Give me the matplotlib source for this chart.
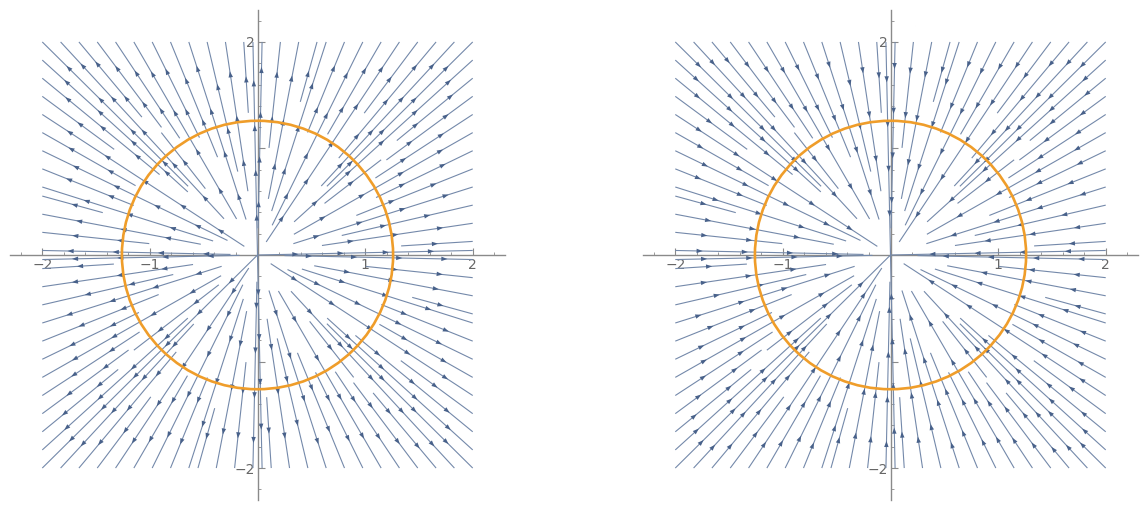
import numpy as np
import matplotlib.pyplot as plt
from matplotlib.patches import Circle, FancyArrowPatch
from matplotlib.ticker import MultipleLocator, FixedLocator

# Field directions: +1 -> outward source, -1 -> inward sink
directions = [1, -1]
circle_radius = 1.26
major_ticks = [-2, -1, 1, 2]
x_tick_labels = ["\u22122", "\u22121", "1", "2"]
y_tick_labels = ["\u22122", "", "", "2"]

STREAM = "#7489aa"
HEAD = "#48618a"
ORANGE = "#ef9d2a"
AXIS = "#8a8a8a"
ARROW_GAP = 0.42

fig = plt.figure(figsize=(11.43, 5.07), dpi=100)
boxes = [[10 / 1143, 7 / 507, 495 / 1143, 490 / 507],
         [643 / 1143, 7 / 507, 495 / 1143, 490 / 507]]

grid = np.linspace(-2, 2, 101)
X, Y = np.meshgrid(grid, grid)


def streamlines_from(segments):
    """Return whole streamlines, joining two-point pieces when needed."""
    segs = [np.asarray(s) for s in segments]
    if segs and max(len(s) for s in segs) > 2:
        return segs
    lines, current = [], None
    for seg in segs:
        if current is not None and np.allclose(current[-1], seg[0]):
            current.append(seg[1])
        else:
            if current is not None:
                lines.append(np.array(current))
            current = [seg[0], seg[1]]
    if current is not None:
        lines.append(np.array(current))
    return lines


for box, sgn in zip(boxes, directions):
    ax = fig.add_axes(box)
    U = sgn * X
    V = sgn * Y
    sp = ax.streamplot(X, Y, U, V, density=1.6, color=STREAM, linewidth=0.8,
                       arrowsize=0, minlength=0.14, zorder=3)

    # arrowheads spaced evenly along each streamline
    for line in streamlines_from(sp.lines.get_segments()):
        d = np.hypot(np.diff(line[:, 0]), np.diff(line[:, 1]))
        s = np.concatenate([[0], np.cumsum(d)])
        total = s[-1]
        if total < 0.15:
            continue
        n = max(1, int(total / ARROW_GAP))
        offset = (total - (n - 1) * ARROW_GAP) / 2
        for k in range(n):
            sk = offset + k * ARROW_GAP
            px = np.interp(sk, s, line[:, 0])
            py = np.interp(sk, s, line[:, 1])
            r = np.hypot(px, py)
            if r < 1e-3:
                continue
            ux, uy = sgn * px / r, sgn * py / r
            arr = FancyArrowPatch((px - ux * 0.01, py - uy * 0.01),
                                  (px + ux * 0.01, py + uy * 0.01),
                                  arrowstyle="-|>,head_length=0.55,head_width=0.2",
                                  mutation_scale=8,
                                  color=HEAD, lw=0, zorder=3.5)
            ax.add_patch(arr)

    ax.add_patch(Circle((0, 0), circle_radius, fill=False, color=ORANGE,
                        lw=1.9, zorder=4))
    ax.set_xlim(-2.3, 2.3)
    ax.set_ylim(-2.3, 2.3)
    for s in ("top", "right"):
        ax.spines[s].set_visible(False)
    for s in ("left", "bottom"):
        ax.spines[s].set_position("zero")
        ax.spines[s].set_color(AXIS)
        ax.spines[s].set_linewidth(1.0)
        ax.spines[s].set_zorder(1)
    ax.xaxis.set_major_locator(FixedLocator(major_ticks))
    ax.yaxis.set_major_locator(FixedLocator(major_ticks))
    ax.xaxis.set_minor_locator(MultipleLocator(0.2))
    ax.yaxis.set_minor_locator(MultipleLocator(0.2))
    ax.set_xticklabels(x_tick_labels)
    ax.set_yticklabels(y_tick_labels)
    ax.tick_params(axis="both", which="both", direction="in", colors=AXIS,
                   labelcolor="#666666", labelsize=10, pad=2)
    ax.tick_params(which="major", length=5, width=0.8)
    ax.tick_params(which="minor", length=2.5, width=0.6)
    ax.patch.set_alpha(0)

fig.savefig("out.png", dpi=100, facecolor="white")
